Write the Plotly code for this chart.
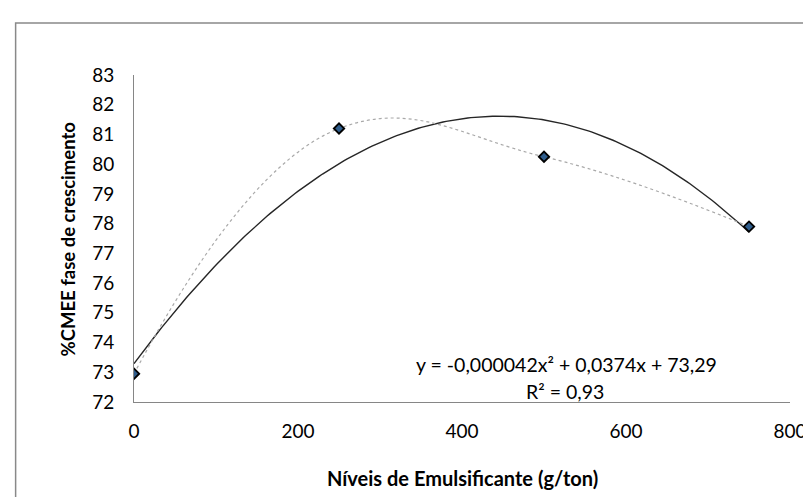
import numpy as np
import plotly.graph_objects as go

# Data
niveis = [0, 250, 500, 750]
cmee = [72.95, 81.2, 80.25, 77.9]

# Trendline coefficients as displayed (a*x^2 + b*x + c)
coef = [-0.000042, 0.0374, 73.29]
eq_text = "y = -0,000042x² + 0,0374x + 73,29"
r2_text = "R² = 0,93"

x_ticks = [0, 200, 400, 600, 800]
y_ticks = list(range(72, 84))

FONT = "Lato"

xt = np.linspace(min(niveis), max(niveis), 200)
yt = np.polyval(coef, xt)

fig = go.Figure()
fig.add_trace(go.Scatter(
    x=xt, y=yt, mode="lines",
    line=dict(color="#262626", width=1.4),
    hoverinfo="skip", showlegend=False))
fig.add_trace(go.Scatter(
    x=niveis, y=cmee, mode="lines+markers",
    line=dict(color="#a9a9a9", width=1.2, dash="dot", shape="spline", smoothing=1.2),
    marker=dict(symbol="diamond", size=8, color="#2f5d8c",
                line=dict(color="#000000", width=1.8)),
    showlegend=False))

L, R, T, B = 126, 20, 67, 103
W, H = 811, 497
pw, ph = W - L - R, H - T - B

def px(xp):
    return (xp - L) / pw

def py(yp):
    return (H - B - yp) / ph

fig.update_layout(
    width=W, height=H,
    margin=dict(l=L, r=R, t=T, b=B),
    paper_bgcolor="white", plot_bgcolor="white",
    font=dict(family=FONT, size=19, color="#000000"),
    xaxis=dict(range=[0, 800], tickvals=x_ticks, showgrid=False, zeroline=False,
               showline=True, linecolor="#868686", linewidth=1,
               ticks="", ticklabelstandoff=12,
               tickfont=dict(family=FONT, size=19, color="#000000")),
    yaxis=dict(range=[72, 83], tickvals=y_ticks, showgrid=False, zeroline=False,
               showline=True, linecolor="#868686", linewidth=1,
               ticks="", ticklabelstandoff=15,
               tickfont=dict(family=FONT, size=19, color="#000000")),
    shapes=[dict(type="rect", xref="paper", yref="paper",
                 x0=px(6), x1=px(830), y0=py(520), y1=py(15),
                 line=dict(color="#898989", width=1.5), fillcolor="rgba(0,0,0,0)",
                 layer="below")],
    annotations=[
        dict(text=eq_text, xref="paper", yref="paper", x=px(564), y=py(356),
             showarrow=False, xanchor="center", yanchor="middle",
             font=dict(family=FONT, size=19.5)),
        dict(text=r2_text, xref="paper", yref="paper", x=px(563), y=py(383),
             showarrow=False, xanchor="center", yanchor="middle",
             font=dict(family=FONT, size=19.5)),
        dict(text="<b>Níveis de Emulsificante (g/ton)</b>", xref="paper", yref="paper",
             x=px(459), y=py(470), showarrow=False, xanchor="center", yanchor="middle",
             font=dict(family=FONT, size=20)),
        dict(text="<b>%CMEE fase de crescimento</b>", xref="paper", yref="paper",
             x=px(59), y=0.5, showarrow=False, xanchor="center", yanchor="middle",
             textangle=-90, font=dict(family=FONT, size=18.5)),
    ],
)

fig.write_html("out.html")
